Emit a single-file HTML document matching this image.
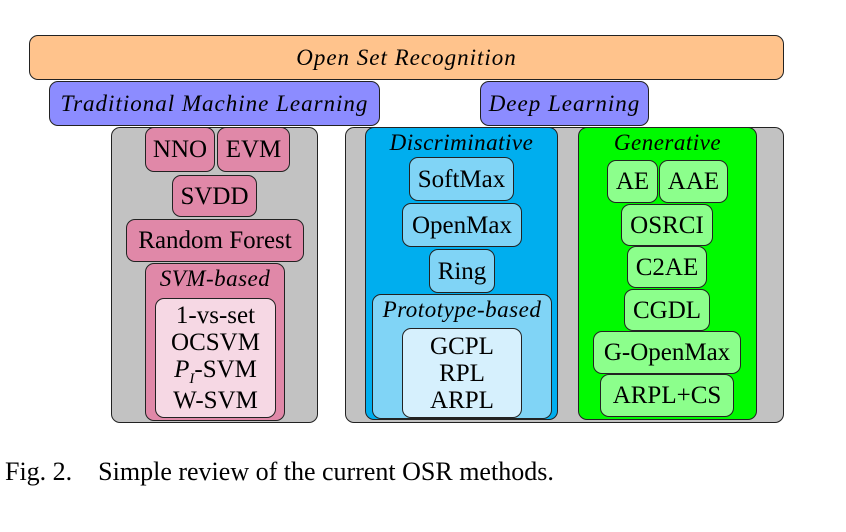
<!DOCTYPE html>
<html><head><meta charset="utf-8"><style>
body{margin:0;width:846px;height:532px;background:#fff;position:relative;overflow:hidden;font-family:"Liberation Serif",serif;}
.b{position:absolute;box-sizing:border-box;border:1.3px solid #222;border-radius:9px;display:flex;align-items:center;justify-content:center;text-align:center;font-size:25px;color:#000;line-height:1;white-space:nowrap;}
.t{position:absolute;left:0;right:0;text-align:center;font-style:italic;font-size:23px;letter-spacing:0.5px;}
.it{font-style:italic;font-size:23px;letter-spacing:1px;}
.pk{background:#e088a8;} .lp{background:#f6d8e4;}
.lb{background:#80d4f6;} .vlb{background:#d6f0fd;}
.lg{background:#8cff8c;}
.gy{background:#c2c2c2;}
.multi{flex-direction:column;line-height:1.08;}
</style></head><body>
<div class="b it" style="left:29px;top:35px;width:755px;height:45px;background:#ffc38c">Open Set Recognition</div>
<div class="b it" style="left:49px;top:81px;width:331px;height:45px;background:#8c8cff">Traditional Machine Learning</div>
<div class="b it" style="left:480px;top:81px;width:169px;height:45px;background:#8c8cff">Deep Learning</div>

<div class="b gy" style="left:111px;top:127px;width:207px;height:296px"></div>
<div class="b pk" style="left:145px;top:127px;width:70px;height:45px">NNO</div>
<div class="b pk" style="left:217px;top:127px;width:73px;height:45px">EVM</div>
<div class="b pk" style="left:172px;top:175px;width:85px;height:42px">SVDD</div>
<div class="b pk" style="left:126px;top:219px;width:178px;height:43px">Random Forest</div>
<div class="b pk" style="left:145px;top:263px;width:140px;height:158px"><div class="t" style="top:3px">SVM-based</div></div>
<div class="b lp multi" style="left:155px;top:298px;width:121px;height:120px"><div>1-vs-set</div><div>OCSVM</div><div><i>P<sub style="font-size:15px">I</sub></i>-SVM</div><div>W-SVM</div></div>

<div class="b gy" style="left:345px;top:127px;width:439px;height:296px"></div>
<div class="b" style="left:365px;top:127px;width:193px;height:293px;background:#00aeee"><div class="t" style="top:3px">Discriminative</div></div>
<div class="b lb" style="left:409px;top:157px;width:105px;height:44px">SoftMax</div>
<div class="b lb" style="left:402px;top:203px;width:120px;height:44px">OpenMax</div>
<div class="b lb" style="left:429px;top:249px;width:66px;height:44px">Ring</div>
<div class="b lb" style="left:372px;top:294px;width:180px;height:125px"><div class="t" style="top:3px">Prototype-based</div></div>
<div class="b vlb multi" style="left:402px;top:328px;width:120px;height:90px"><div>GCPL</div><div>RPL</div><div>ARPL</div></div>

<div class="b" style="left:578px;top:127px;width:179px;height:293px;background:#00fa00"><div class="t" style="top:3px">Generative</div></div>
<div class="b lg" style="left:607px;top:160px;width:51px;height:43px">AE</div>
<div class="b lg" style="left:659px;top:160px;width:69px;height:43px">AAE</div>
<div class="b lg" style="left:621px;top:204px;width:92px;height:42px">OSRCI</div>
<div class="b lg" style="left:627px;top:246px;width:80px;height:42px">C2AE</div>
<div class="b lg" style="left:624px;top:289px;width:86px;height:42px">CGDL</div>
<div class="b lg" style="left:593px;top:331px;width:148px;height:43px">G-OpenMax</div>
<div class="b lg" style="left:600px;top:374px;width:134px;height:43px">ARPL+CS</div>

<div style="position:absolute;left:5px;top:457px;font-size:26px;white-space:pre">Fig. 2.    Simple review of the current OSR methods.</div>
</body></html>
